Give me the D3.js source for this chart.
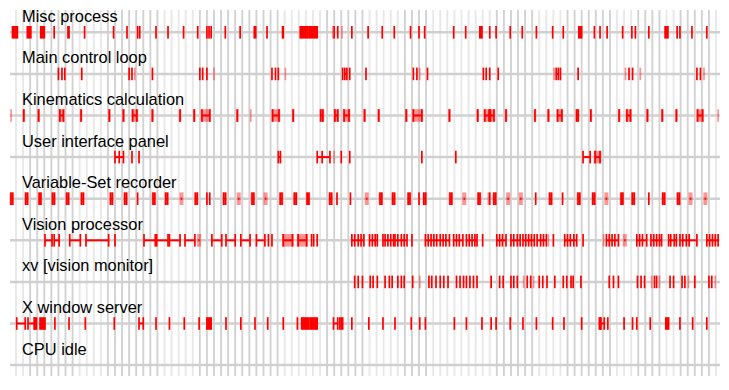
<!DOCTYPE html>
<html>
<head>
<meta charset="utf-8">
<script src="https://cdn.jsdelivr.net/npm/d3@7"></script>
<style>
  body { margin: 0; background: #fff; }
  svg { display: block; }
</style>
</head>
<body>
<svg id="chart"></svg>
<script>
// process rows, top to bottom
const processes = ['Misc process', 'Main control loop', 'Kinematics calculation', 'User interface panel',
  'Variable-Set recorder', 'Vision processor', 'xv [vision monitor]', 'X window server', 'CPU idle'];

// time grid: 100 ticks, some drawn lighter
const gridTicks = d3.range(0, 100);
const lightTicks = [0, 1, 9, 10, 11, 12, 21, 22, 23, 24, 25, 38, 39, 40, 41, 42, 43, 50, 51, 52, 53, 54,
  59, 60, 61, 62, 63, 64, 65, 66, 67, 74, 75, 76, 77, 85, 86, 87, 92, 93, 99];

// events per row, in grid units. kind: t tick, pt pale tick, k tick with halo,
// h linked ticks, ph linked ticks on pale, pp pale span, b block
const miscProcess = [
  ['b', -0.5, 0.2], ['b', 1.6, 2.1], ['b', 3.5, 4.0], ['t', 5.4], ['b', 7.35, 7.5], ['t', 9.7], ['t', 13.8],
  ['t', 15.7], ['t', 17.2, 17.5], ['t', 19.8], ['t', 21.5], ['t', 23.7], ['t', 25.7], ['t', 27.0, 27.3, 27.6],
  ['t', 29.6], ['t', 31.7], ['b', 33.7, 33.9], ['t', 35.5], ['b', 37.7, 37.8], ['b', 40.2, 41.3], ['b', 41.5, 42.6],
  ['pt', 44.8], ['t', 45.0], ['t', 45.5], ['pt', 46.1], ['t', 47.5], ['t', 49.8], ['t', 51.8], ['t', 53.5],
  ['t', 55.8], ['t', 57.0], ['t', 57.8], ['t', 61.9], ['t', 63.6], ['b', 65.6, 65.9], ['t', 67.0], ['t', 67.9],
  ['t', 69.9], ['t', 71.6], ['t', 73.6], ['t', 75.9], ['t', 77.4], ['b', 79.6, 80.0], ['t', 81.8], ['t', 82.6],
  ['t', 83.6], ['t', 85.8], ['t', 87.1], ['t', 87.6], ['t', 89.5], ['b', 91.8, 92.2], ['t', 93.5], ['t', 93.9],
  ['t', 95.6], ['t', 97.7]
];
const mainControl = [
  ['t', 6.0, 6.5, 6.9], ['t', 9.3], ['t', 16.0, 16.4], ['pt', 16.8], ['t', 19.3], ['t', 26.0, 26.4, 27.0],
  ['pt', 28.0], ['t', 36.2, 36.7, 37.1], ['pt', 38.1], ['t', 46.2], ['h', 46.5, 46.8], ['t', 47.2], ['t', 49.5],
  ['t', 56.2, 56.7], ['pt', 57.1], ['t', 58.2], ['t', 66.1, 66.5, 67.0], ['t', 68.2], ['pt', 76.1],
  ['h', 76.4, 76.7], ['t', 77.0], ['t', 79.5], ['pt', 86.2], ['t', 86.7, 87.2], ['pt', 88.3], ['t', 96.3, 96.8],
  ['pt', 97.3]
];
const kinematics = [
  ['pt', -0.7], ['k', 1.1], ['k', 3.2], ['ph', 6.2, 6.7], ['k', 9.2], ['k', 13.2], ['k', 15.2], ['ph', 16.5, 17.1],
  ['k', 19.3], ['k', 23.2], ['k', 25.2], ['ph', 26.3, 27.4], ['k', 31.3], ['pt', 33.2], ['ph', 36.3, 37.2],
  ['k', 39.2], ['ph', 43.1, 43.4], ['ph', 45.1, 45.5], ['ph', 46.4, 47.1], ['k', 49.3], ['k', 51.3], ['k', 55.2],
  ['ph', 56.2, 57.4], ['k', 61.3], ['k', 65.3], ['ph', 66.3, 66.9], ['ph', 67.1, 67.6], ['k', 69.3], ['k', 73.4],
  ['k', 75.3], ['ph', 76.6, 77.2], ['ph', 79.3, 79.5], ['k', 81.3], ['k', 85.3], ['ph', 86.4, 86.9], ['k', 89.3],
  ['k', 91.4], ['k', 93.4], ['ph', 96.4, 97.1], ['pt', 99.3]
];
const userInterface = [
  ['h', 14.0, 14.6, 15.2], ['t', 16.4], ['t', 17.4], ['h', 37.1, 37.4], ['h', 42.6, 43.3, 44.4], ['pt', 45.0],
  ['t', 46.0], ['t', 47.2], ['t', 57.4], ['t', 62.2], ['h', 80.2, 81.2], ['ph', 81.9, 82.6]
];
const variableSet = [
  ['ph', -0.72, -0.48], ['ph', 1.38, 1.62], ['ph', 3.28, 3.52], ['ph', 5.18, 5.42], ['ph', 7.18, 7.42],
  ['ph', 9.28, 9.52], ['ph', 13.38, 13.62], ['ph', 15.38, 15.62], ['t', 17.2], ['ph', 19.38, 19.62],
  ['ph', 21.18, 21.42], ['pp', 23.3, 23.5], ['ph', 25.38, 25.62], ['t', 27.0, 27.4], ['ph', 29.38, 29.62],
  ['pp', 31.4, 31.6], ['ph', 33.38, 33.62], ['pp', 35.2, 35.4], ['ph', 37.38, 37.62], ['ph', 39.38, 39.62],
  ['ph', 41.18, 41.42], ['ph', 44.38, 44.62], ['t', 45.4], ['t', 47.3], ['pp', 49.5, 49.7], ['ph', 51.48, 51.72],
  ['ph', 53.28, 53.52], ['ph', 55.48, 55.72], ['t', 57.0], ['ph', 57.68, 57.92], ['ph', 61.38, 61.62],
  ['pp', 63.3, 63.5], ['ph', 65.38, 65.62], ['pt', 66.8], ['t', 67.0], ['ph', 67.58, 67.82], ['pp', 69.5, 69.7],
  ['pp', 71.3, 71.5], ['t', 73.5], ['ph', 75.48, 75.72], ['t', 77.3], ['ph', 79.48, 79.72], ['ph', 81.58, 81.82],
  ['pp', 83.4, 83.6], ['ph', 85.58, 85.82], ['ph', 87.18, 87.42], ['t', 89.5], ['ph', 91.48, 91.72],
  ['ph', 93.58, 93.82], ['pp', 95.3, 95.5], ['pp', 97.4, 97.6]
];
const visionProc = [
  ['h', 4.1, 5.1], ['h', 5.4, 6.1], ['h', 7.6, 9.1], ['h', 9.9, 13.1], ['t', 14.0], ['h', 18.1, 19.7],
  ['h', 19.9, 21.5], ['h', 21.7, 23.2], ['h', 23.9, 25.3], ['pp', 25.8, 26.0], ['h', 27.7, 29.1], ['h', 29.7, 31.0],
  ['h', 31.8, 33.1], ['h', 34.0, 35.2], ['t', 35.7, 36.2], ['ph', 37.8, 39.1], ['ph', 39.9, 41.1],
  ['t', 41.8, 42.1, 42.6], ['h', 47.5, 47.9, 48.4, 48.8, 49.2], ['h', 50.0, 50.4, 50.8, 51.1],
  ['h', 51.9, 52.2, 52.6, 53.0, 53.4], ['h', 53.6, 54.0, 54.5, 54.9, 55.3], ['t', 56.0],
  ['h', 57.9, 58.3, 58.7, 59.1, 59.5, 60.0, 60.4, 60.8, 61.3], ['h', 61.9, 62.3, 62.7, 63.2],
  ['h', 63.7, 64.1, 64.5, 64.9, 65.2], ['t', 66.0], ['h', 68.0, 68.4, 68.8, 69.3], ['h', 70.0, 70.4, 70.9, 71.3],
  ['h', 71.7, 72.1, 72.5, 72.9, 73.3], ['h', 73.7, 74.2, 74.6, 75.0], ['pt', 75.3], ['t', 76.0],
  ['h', 77.6, 78.0, 78.4, 78.9, 79.3], ['t', 80.2], ['pt', 83.1], ['h', 83.5, 83.9, 84.3, 84.7, 85.2],
  ['pp', 86.0, 86.2], ['h', 87.8, 88.2, 88.6, 89.2], ['h', 89.8, 90.2, 90.6, 91.0, 91.3], ['h', 92.3, 92.6, 93.1, 93.4],
  ['h', 93.9, 94.3, 94.8, 95.2, 96.3], ['h', 97.7, 98.1, 98.5, 98.9, 99.3]
];
const xvMonitor = [
  ['t', 47.9, 48.4, 49.0], ['t', 50.1, 50.5, 51.1], ['t', 52.2, 52.8, 53.2], ['t', 54.0, 54.5, 54.9], ['t', 56.1],
  ['pt', 57.1], ['t', 58.4, 58.8, 59.4, 60.0, 60.5, 61.1], ['t', 62.3, 62.8, 63.3, 63.7, 64.2, 64.7, 65.2],
  ['t', 67.2], ['t', 68.4, 68.9], ['t', 70.0, 70.4, 70.9], ['pt', 71.8], ['t', 72.3, 72.8], ['pt', 73.2],
  ['t', 74.0, 74.5, 75.1], ['t', 76.2], ['t', 77.4, 77.9, 78.5, 78.8], ['t', 79.9], ['t', 83.9, 84.5, 85.2],
  ['t', 87.9, 88.4, 88.9], ['pt', 89.9], ['t', 90.3, 90.6], ['pt', 91.0], ['t', 92.5, 93.0], ['t', 94.2, 94.6],
  ['pt', 95.1], ['t', 96.0], ['t', 98.0, 98.4], ['pt', 98.9]
];
const xServer = [
  ['h', 0.1, 1.3], ['h', 1.7, 2.6], ['b', 2.6, 2.9], ['b', 3.4, 4.1], ['t', 5.5], ['t', 7.5], ['t', 9.8], ['t', 13.9],
  ['h', 17.4, 18.0], ['t', 19.8], ['t', 21.7], ['t', 23.8], ['t', 25.9], ['b', 27.0, 27.6], ['t', 29.7], ['t', 31.8],
  ['t', 33.8], ['t', 35.6], ['t', 37.8], ['t', 39.8], ['b', 40.4, 41.4], ['b', 41.6, 42.6], ['h', 44.9, 45.5],
  ['t', 45.8], ['b', 46.0, 46.2], ['t', 47.5], ['t', 49.9], ['t', 51.9], ['t', 53.6], ['t', 55.9], ['t', 57.1],
  ['t', 57.9], ['t', 62.0], ['t', 63.7], ['t', 65.9], ['t', 67.2], ['t', 67.9], ['t', 69.9], ['t', 71.7], ['t', 73.6],
  ['t', 75.9], ['t', 77.5], ['t', 80.0], ['b', 82.5, 82.7], ['h', 82.7, 83.2], ['t', 83.7], ['t', 86.0],
  ['t', 87.2, 87.8], ['t', 89.7], ['b', 91.9, 92.3], ['t', 93.9], ['t', 95.7], ['t', 97.7]
];
const cpuIdle = [];

const rowEvents = [miscProcess, mainControl, kinematics, userInterface, variableSet, visionProc, xvMonitor, xServer, cpuIdle];

const width = 729, height = 390;
const svg = d3.select('#chart').attr('width', width).attr('height', height);

const x = d3.scaleLinear().domain([0, 99]).range([16, 716]);
const y = d3.scalePoint().domain(processes).range([32.3, 365.1]);

const RED = '#ff0000', PALE = 'rgba(255,0,0,0.42)';
const half = 6.3; // half tick height

// vertical time grid
svg.append('g')
  .selectAll('line')
  .data(gridTicks)
  .join('line')
  .attr('x1', (d) => x(d)).attr('x2', (d) => x(d))
  .attr('y1', 10).attr('y2', 376)
  .attr('stroke', (d) => lightTicks.includes(d) ? '#e8e8e8' : '#d2d2d2')
  .attr('stroke-width', 1.9);

// row baselines
svg.append('g')
  .selectAll('line')
  .data(processes)
  .join('line')
  .attr('x1', 10).attr('x2', 720)
  .attr('y1', (d) => y(d)).attr('y2', (d) => y(d))
  .attr('stroke', '#d0d0d0')
  .attr('stroke-width', 2.5);

// labels
svg.append('g')
  .selectAll('text')
  .data(processes)
  .join('text')
  .attr('x', 22)
  .attr('y', (d) => y(d) - 10.6)
  .text((d) => d)
  .style('font-family', '"Liberation Sans", Arial, Helvetica, sans-serif')
  .style('font-size', '16.4px')
  .style('fill', '#000');

function drawRow(g, events) {
  events.forEach((ev) => {
    const kind = ev[0];
    const ts = ev.slice(1);
    const x0 = x(ts[0]), x1 = x(ts[ts.length - 1]);
    if (kind === 'ph' || kind === 'pp' || kind === 'k') {
      g.append('rect').attr('x', x0 - 1.3).attr('width', x1 - x0 + 2.6)
        .attr('y', -half).attr('height', half * 2).style('fill', PALE);
    }
    if (kind === 'b') {
      g.append('rect').attr('x', x0 - 0.85).attr('width', x1 - x0 + 1.7)
        .attr('y', -half).attr('height', half * 2).style('fill', RED);
    }
    if (kind === 'h' || kind === 'ph' || kind === 'pp') {
      g.append('line').attr('x1', x0).attr('x2', x1).attr('y1', 0).attr('y2', 0)
        .style('stroke', RED).style('stroke-width', 2);
    }
    if (kind === 't' || kind === 'h' || kind === 'ph' || kind === 'k' || kind === 'pt') {
      g.selectAll(null)
        .data(ts)
        .join('rect')
        .attr('x', (d) => x(d) - 0.85)
        .attr('width', 1.7)
        .attr('y', -half).attr('height', half * 2)
        .style('fill', kind === 'pt' ? PALE : RED);
    }
  });
}

processes.forEach((p, i) => {
  const g = svg.append('g').attr('transform', `translate(0,${y(p)})`);
  drawRow(g, rowEvents[i]);
});
</script>
</body>
</html>
